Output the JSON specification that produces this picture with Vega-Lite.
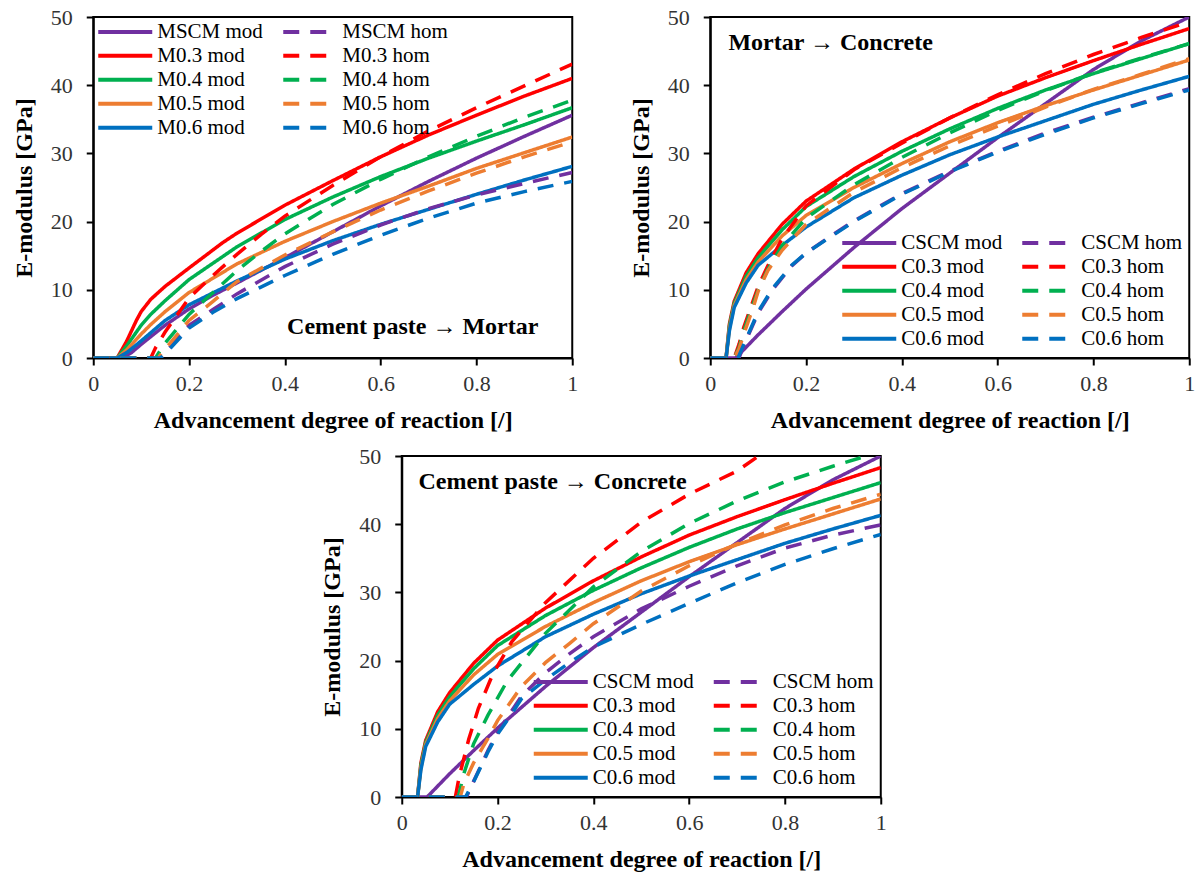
{
"$schema":"https://vega.github.io/schema/vega-lite/v6.json",
"background":"white",
"padding":{"left":11,"top":5,"right":0,"bottom":0},
"config":{
 "font":"Liberation Serif",
 "view":{"stroke":"black","strokeWidth":2},
 "axis":{"grid":false,"domainColor":"black","domainWidth":2,"tickColor":"black","tickWidth":2,"tickSize":7,"labelFont":"Liberation Serif","labelFontSize":22,"labelColor":"#333333","titleFont":"Liberation Serif","titleFontSize":24,"titleFontWeight":"bold","titleColor":"black","labelFlush":false},
 "axisX":{"labelPadding":8,"titlePadding":14},
 "axisY":{"labelPadding":14,"titlePadding":14},
 "legend":{"symbolType":"stroke","symbolSize":2916,"symbolStrokeWidth":4,"labelFont":"Liberation Serif","labelFontSize":21,"labelColor":"black","labelOffset":3,"rowPadding":0,"columnPadding":18,"padding":0,"labelLimit":300,"clipHeight":23.5}
},
"datasets":{
"mmod":[
{"s":"MSCM mod","x":0,"y":0},{"s":"MSCM mod","x":0.06,"y":0},{"s":"MSCM mod","x":0.08,"y":0.8},{"s":"MSCM mod","x":0.1,"y":2},{"s":"MSCM mod","x":0.15,"y":4.8},{"s":"MSCM mod","x":0.2,"y":7.2},{"s":"MSCM mod","x":0.25,"y":9.2},{"s":"MSCM mod","x":0.3,"y":11},{"s":"MSCM mod","x":0.4,"y":14.7},{"s":"MSCM mod","x":0.5,"y":18.5},{"s":"MSCM mod","x":0.6,"y":22.3},{"s":"MSCM mod","x":0.7,"y":25.9},{"s":"MSCM mod","x":0.8,"y":29.3},{"s":"MSCM mod","x":0.9,"y":32.5},{"s":"MSCM mod","x":1,"y":35.6},
{"s":"M0.3 mod","x":0,"y":0},{"s":"M0.3 mod","x":0.05,"y":0},{"s":"M0.3 mod","x":0.07,"y":2.5},{"s":"M0.3 mod","x":0.09,"y":5.5},{"s":"M0.3 mod","x":0.1,"y":6.8},{"s":"M0.3 mod","x":0.12,"y":8.6},{"s":"M0.3 mod","x":0.15,"y":10.5},{"s":"M0.3 mod","x":0.2,"y":13.2},{"s":"M0.3 mod","x":0.27,"y":16.9},{"s":"M0.3 mod","x":0.3,"y":18.3},{"s":"M0.3 mod","x":0.4,"y":22.4},{"s":"M0.3 mod","x":0.5,"y":26},{"s":"M0.3 mod","x":0.6,"y":29.5},{"s":"M0.3 mod","x":0.7,"y":32.7},{"s":"M0.3 mod","x":0.8,"y":35.6},{"s":"M0.3 mod","x":0.9,"y":38.4},{"s":"M0.3 mod","x":1,"y":41},
{"s":"M0.4 mod","x":0,"y":0},{"s":"M0.4 mod","x":0.05,"y":0},{"s":"M0.4 mod","x":0.07,"y":1.8},{"s":"M0.4 mod","x":0.1,"y":4.8},{"s":"M0.4 mod","x":0.12,"y":6.4},{"s":"M0.4 mod","x":0.15,"y":8.4},{"s":"M0.4 mod","x":0.2,"y":11.5},{"s":"M0.4 mod","x":0.3,"y":16.3},{"s":"M0.4 mod","x":0.4,"y":20.3},{"s":"M0.4 mod","x":0.5,"y":23.6},{"s":"M0.4 mod","x":0.6,"y":26.6},{"s":"M0.4 mod","x":0.7,"y":29.3},{"s":"M0.4 mod","x":0.8,"y":31.8},{"s":"M0.4 mod","x":0.9,"y":34.2},{"s":"M0.4 mod","x":1,"y":36.7},
{"s":"M0.5 mod","x":0,"y":0},{"s":"M0.5 mod","x":0.05,"y":0},{"s":"M0.5 mod","x":0.07,"y":1.2},{"s":"M0.5 mod","x":0.1,"y":3.5},{"s":"M0.5 mod","x":0.12,"y":4.9},{"s":"M0.5 mod","x":0.15,"y":6.8},{"s":"M0.5 mod","x":0.2,"y":9.6},{"s":"M0.5 mod","x":0.3,"y":13.8},{"s":"M0.5 mod","x":0.4,"y":17.1},{"s":"M0.5 mod","x":0.5,"y":20},{"s":"M0.5 mod","x":0.6,"y":22.7},{"s":"M0.5 mod","x":0.7,"y":25.2},{"s":"M0.5 mod","x":0.8,"y":27.8},{"s":"M0.5 mod","x":0.9,"y":30.1},{"s":"M0.5 mod","x":1,"y":32.4},
{"s":"M0.6 mod","x":0,"y":0},{"s":"M0.6 mod","x":0.05,"y":0},{"s":"M0.6 mod","x":0.07,"y":0.8},{"s":"M0.6 mod","x":0.1,"y":2.5},{"s":"M0.6 mod","x":0.12,"y":3.7},{"s":"M0.6 mod","x":0.15,"y":5.5},{"s":"M0.6 mod","x":0.2,"y":7.8},{"s":"M0.6 mod","x":0.3,"y":11.3},{"s":"M0.6 mod","x":0.4,"y":14.5},{"s":"M0.6 mod","x":0.5,"y":17.2},{"s":"M0.6 mod","x":0.6,"y":19.6},{"s":"M0.6 mod","x":0.7,"y":21.8},{"s":"M0.6 mod","x":0.8,"y":24},{"s":"M0.6 mod","x":0.9,"y":26.1},{"s":"M0.6 mod","x":1,"y":28.1}
],
"mhom":[
{"s":"MSCM hom","x":0,"y":0},{"s":"MSCM hom","x":0.14,"y":0},{"s":"MSCM hom","x":0.16,"y":1.6},{"s":"MSCM hom","x":0.2,"y":4.8},{"s":"MSCM hom","x":0.25,"y":7.1},{"s":"MSCM hom","x":0.3,"y":9.4},{"s":"MSCM hom","x":0.4,"y":13.4},{"s":"MSCM hom","x":0.5,"y":16.7},{"s":"MSCM hom","x":0.6,"y":19.5},{"s":"MSCM hom","x":0.7,"y":21.9},{"s":"MSCM hom","x":0.8,"y":23.9},{"s":"MSCM hom","x":0.9,"y":25.6},{"s":"MSCM hom","x":1,"y":27.2},
{"s":"M0.3 hom","x":0,"y":0},{"s":"M0.3 hom","x":0.12,"y":0},{"s":"M0.3 hom","x":0.13,"y":1.5},{"s":"M0.3 hom","x":0.15,"y":3.8},{"s":"M0.3 hom","x":0.2,"y":8.8},{"s":"M0.3 hom","x":0.25,"y":12.1},{"s":"M0.3 hom","x":0.3,"y":15.2},{"s":"M0.3 hom","x":0.35,"y":18.1},{"s":"M0.3 hom","x":0.4,"y":20.8},{"s":"M0.3 hom","x":0.5,"y":25.3},{"s":"M0.3 hom","x":0.6,"y":29.5},{"s":"M0.3 hom","x":0.7,"y":33.3},{"s":"M0.3 hom","x":0.8,"y":36.7},{"s":"M0.3 hom","x":0.9,"y":39.9},{"s":"M0.3 hom","x":1,"y":43.1},
{"s":"M0.4 hom","x":0,"y":0},{"s":"M0.4 hom","x":0.13,"y":0},{"s":"M0.4 hom","x":0.15,"y":2.2},{"s":"M0.4 hom","x":0.2,"y":6.4},{"s":"M0.4 hom","x":0.25,"y":9.6},{"s":"M0.4 hom","x":0.3,"y":12.8},{"s":"M0.4 hom","x":0.35,"y":15.6},{"s":"M0.4 hom","x":0.4,"y":18.2},{"s":"M0.4 hom","x":0.5,"y":22.5},{"s":"M0.4 hom","x":0.6,"y":26.2},{"s":"M0.4 hom","x":0.7,"y":29.5},{"s":"M0.4 hom","x":0.8,"y":32.5},{"s":"M0.4 hom","x":0.9,"y":35.3},{"s":"M0.4 hom","x":1,"y":37.8},
{"s":"M0.5 hom","x":0,"y":0},{"s":"M0.5 hom","x":0.135,"y":0},{"s":"M0.5 hom","x":0.15,"y":1.3},{"s":"M0.5 hom","x":0.2,"y":5.5},{"s":"M0.5 hom","x":0.25,"y":8.3},{"s":"M0.5 hom","x":0.3,"y":11.2},{"s":"M0.5 hom","x":0.4,"y":15.1},{"s":"M0.5 hom","x":0.5,"y":18.5},{"s":"M0.5 hom","x":0.6,"y":21.7},{"s":"M0.5 hom","x":0.7,"y":24.5},{"s":"M0.5 hom","x":0.8,"y":27.1},{"s":"M0.5 hom","x":0.9,"y":29.5},{"s":"M0.5 hom","x":1,"y":31.7},
{"s":"M0.6 hom","x":0,"y":0},{"s":"M0.6 hom","x":0.14,"y":0},{"s":"M0.6 hom","x":0.15,"y":0.6},{"s":"M0.6 hom","x":0.2,"y":4.4},{"s":"M0.6 hom","x":0.25,"y":6.7},{"s":"M0.6 hom","x":0.3,"y":8.7},{"s":"M0.6 hom","x":0.35,"y":10.4},{"s":"M0.6 hom","x":0.4,"y":12.1},{"s":"M0.6 hom","x":0.5,"y":15.2},{"s":"M0.6 hom","x":0.6,"y":18},{"s":"M0.6 hom","x":0.7,"y":20.5},{"s":"M0.6 hom","x":0.8,"y":22.7},{"s":"M0.6 hom","x":0.9,"y":24.4},{"s":"M0.6 hom","x":1,"y":25.9}
],
"cmod":[
{"s":"CSCM mod","x":0,"y":0},{"s":"CSCM mod","x":0.053,"y":0},{"s":"CSCM mod","x":0.1,"y":3.4},{"s":"CSCM mod","x":0.15,"y":6.8},{"s":"CSCM mod","x":0.2,"y":10.1},{"s":"CSCM mod","x":0.3,"y":16.2},{"s":"CSCM mod","x":0.4,"y":21.9},{"s":"CSCM mod","x":0.5,"y":27.1},{"s":"CSCM mod","x":0.6,"y":32.3},{"s":"CSCM mod","x":0.7,"y":37.3},{"s":"CSCM mod","x":0.8,"y":42.3},{"s":"CSCM mod","x":0.9,"y":46.5},{"s":"CSCM mod","x":1,"y":50},
{"s":"C0.3 mod","x":0,"y":0},{"s":"C0.3 mod","x":0.033,"y":0},{"s":"C0.3 mod","x":0.04,"y":5},{"s":"C0.3 mod","x":0.05,"y":8.3},{"s":"C0.3 mod","x":0.075,"y":12.5},{"s":"C0.3 mod","x":0.1,"y":15.3},{"s":"C0.3 mod","x":0.15,"y":19.6},{"s":"C0.3 mod","x":0.2,"y":23},{"s":"C0.3 mod","x":0.3,"y":27.7},{"s":"C0.3 mod","x":0.4,"y":31.7},{"s":"C0.3 mod","x":0.5,"y":35.2},{"s":"C0.3 mod","x":0.6,"y":38.4},{"s":"C0.3 mod","x":0.7,"y":41.1},{"s":"C0.3 mod","x":0.8,"y":43.6},{"s":"C0.3 mod","x":0.9,"y":46},{"s":"C0.3 mod","x":1,"y":48.3},
{"s":"C0.4 mod","x":0,"y":0},{"s":"C0.4 mod","x":0.033,"y":0},{"s":"C0.4 mod","x":0.04,"y":4.7},{"s":"C0.4 mod","x":0.05,"y":8},{"s":"C0.4 mod","x":0.075,"y":12},{"s":"C0.4 mod","x":0.1,"y":14.7},{"s":"C0.4 mod","x":0.15,"y":18.8},{"s":"C0.4 mod","x":0.2,"y":22.2},{"s":"C0.4 mod","x":0.3,"y":26.6},{"s":"C0.4 mod","x":0.4,"y":30.3},{"s":"C0.4 mod","x":0.5,"y":33.6},{"s":"C0.4 mod","x":0.6,"y":36.6},{"s":"C0.4 mod","x":0.7,"y":39.3},{"s":"C0.4 mod","x":0.8,"y":41.7},{"s":"C0.4 mod","x":0.9,"y":43.9},{"s":"C0.4 mod","x":1,"y":46.1},
{"s":"C0.5 mod","x":0,"y":0},{"s":"C0.5 mod","x":0.033,"y":0},{"s":"C0.5 mod","x":0.04,"y":4.3},{"s":"C0.5 mod","x":0.05,"y":7.7},{"s":"C0.5 mod","x":0.075,"y":11.5},{"s":"C0.5 mod","x":0.1,"y":14.1},{"s":"C0.5 mod","x":0.15,"y":17.9},{"s":"C0.5 mod","x":0.2,"y":20.9},{"s":"C0.5 mod","x":0.3,"y":25},{"s":"C0.5 mod","x":0.4,"y":28.5},{"s":"C0.5 mod","x":0.5,"y":31.7},{"s":"C0.5 mod","x":0.6,"y":34.5},{"s":"C0.5 mod","x":0.7,"y":37},{"s":"C0.5 mod","x":0.8,"y":39.3},{"s":"C0.5 mod","x":0.9,"y":41.5},{"s":"C0.5 mod","x":1,"y":43.7},
{"s":"C0.6 mod","x":0,"y":0},{"s":"C0.6 mod","x":0.033,"y":0},{"s":"C0.6 mod","x":0.04,"y":4},{"s":"C0.6 mod","x":0.05,"y":7.4},{"s":"C0.6 mod","x":0.075,"y":11},{"s":"C0.6 mod","x":0.1,"y":13.6},{"s":"C0.6 mod","x":0.15,"y":16.5},{"s":"C0.6 mod","x":0.2,"y":19.2},{"s":"C0.6 mod","x":0.3,"y":23.5},{"s":"C0.6 mod","x":0.4,"y":26.8},{"s":"C0.6 mod","x":0.5,"y":29.8},{"s":"C0.6 mod","x":0.6,"y":32.4},{"s":"C0.6 mod","x":0.7,"y":34.8},{"s":"C0.6 mod","x":0.8,"y":37.2},{"s":"C0.6 mod","x":0.9,"y":39.3},{"s":"C0.6 mod","x":1,"y":41.3}
],
"chom1":[
{"s":"CSCM hom","x":0,"y":0},{"s":"CSCM hom","x":0.06,"y":0},{"s":"CSCM hom","x":0.07,"y":1.8},{"s":"CSCM hom","x":0.1,"y":6.6},{"s":"CSCM hom","x":0.13,"y":10},{"s":"CSCM hom","x":0.17,"y":13.5},{"s":"CSCM hom","x":0.2,"y":15.4},{"s":"CSCM hom","x":0.25,"y":17.8},{"s":"CSCM hom","x":0.3,"y":20.1},{"s":"CSCM hom","x":0.4,"y":24.1},{"s":"CSCM hom","x":0.5,"y":27.4},{"s":"CSCM hom","x":0.6,"y":30.3},{"s":"CSCM hom","x":0.7,"y":33},{"s":"CSCM hom","x":0.8,"y":35.3},{"s":"CSCM hom","x":0.9,"y":37.4},{"s":"CSCM hom","x":1,"y":39.5},
{"s":"C0.3 hom","x":0,"y":0},{"s":"C0.3 hom","x":0.05,"y":0},{"s":"C0.3 hom","x":0.06,"y":2},{"s":"C0.3 hom","x":0.07,"y":4.5},{"s":"C0.3 hom","x":0.09,"y":8.5},{"s":"C0.3 hom","x":0.1,"y":10.5},{"s":"C0.3 hom","x":0.12,"y":13.5},{"s":"C0.3 hom","x":0.15,"y":17.5},{"s":"C0.3 hom","x":0.2,"y":22.3},{"s":"C0.3 hom","x":0.3,"y":27.6},{"s":"C0.3 hom","x":0.4,"y":31.5},{"s":"C0.3 hom","x":0.5,"y":35.2},{"s":"C0.3 hom","x":0.6,"y":38.6},{"s":"C0.3 hom","x":0.7,"y":41.7},{"s":"C0.3 hom","x":0.8,"y":44.5},{"s":"C0.3 hom","x":0.9,"y":47},{"s":"C0.3 hom","x":1,"y":49.3},
{"s":"C0.4 hom","x":0,"y":0},{"s":"C0.4 hom","x":0.05,"y":0},{"s":"C0.4 hom","x":0.06,"y":1.5},{"s":"C0.4 hom","x":0.07,"y":4},{"s":"C0.4 hom","x":0.09,"y":8},{"s":"C0.4 hom","x":0.1,"y":10},{"s":"C0.4 hom","x":0.12,"y":13},{"s":"C0.4 hom","x":0.15,"y":16.5},{"s":"C0.4 hom","x":0.2,"y":20.5},{"s":"C0.4 hom","x":0.3,"y":25.4},{"s":"C0.4 hom","x":0.4,"y":29.4},{"s":"C0.4 hom","x":0.5,"y":33},{"s":"C0.4 hom","x":0.6,"y":36.3},{"s":"C0.4 hom","x":0.7,"y":39.2},{"s":"C0.4 hom","x":0.8,"y":41.8},{"s":"C0.4 hom","x":0.9,"y":44},{"s":"C0.4 hom","x":1,"y":46.1},
{"s":"C0.5 hom","x":0,"y":0},{"s":"C0.5 hom","x":0.05,"y":0},{"s":"C0.5 hom","x":0.06,"y":1.3},{"s":"C0.5 hom","x":0.07,"y":3.5},{"s":"C0.5 hom","x":0.09,"y":7.5},{"s":"C0.5 hom","x":0.1,"y":9.8},{"s":"C0.5 hom","x":0.12,"y":12.8},{"s":"C0.5 hom","x":0.15,"y":15.8},{"s":"C0.5 hom","x":0.2,"y":19.6},{"s":"C0.5 hom","x":0.3,"y":24.3},{"s":"C0.5 hom","x":0.4,"y":27.9},{"s":"C0.5 hom","x":0.5,"y":31.1},{"s":"C0.5 hom","x":0.6,"y":34},{"s":"C0.5 hom","x":0.7,"y":36.8},{"s":"C0.5 hom","x":0.8,"y":39.4},{"s":"C0.5 hom","x":0.9,"y":41.6},{"s":"C0.5 hom","x":1,"y":43.9},
{"s":"C0.6 hom","x":0,"y":0},{"s":"C0.6 hom","x":0.058,"y":0},{"s":"C0.6 hom","x":0.07,"y":2},{"s":"C0.6 hom","x":0.1,"y":6.8},{"s":"C0.6 hom","x":0.13,"y":10.2},{"s":"C0.6 hom","x":0.17,"y":13.6},{"s":"C0.6 hom","x":0.2,"y":15.4},{"s":"C0.6 hom","x":0.25,"y":17.7},{"s":"C0.6 hom","x":0.3,"y":20},{"s":"C0.6 hom","x":0.4,"y":24},{"s":"C0.6 hom","x":0.5,"y":27.3},{"s":"C0.6 hom","x":0.6,"y":30.2},{"s":"C0.6 hom","x":0.7,"y":32.8},{"s":"C0.6 hom","x":0.8,"y":35.2},{"s":"C0.6 hom","x":0.9,"y":37.3},{"s":"C0.6 hom","x":1,"y":39.3}
],
"chom2":[
{"s":"CSCM hom","x":0,"y":0},{"s":"CSCM hom","x":0.135,"y":0},{"s":"CSCM hom","x":0.15,"y":2.3},{"s":"CSCM hom","x":0.18,"y":6.8},{"s":"CSCM hom","x":0.2,"y":9.5},{"s":"CSCM hom","x":0.25,"y":14.8},{"s":"CSCM hom","x":0.3,"y":18.2},{"s":"CSCM hom","x":0.35,"y":21},{"s":"CSCM hom","x":0.4,"y":23.5},{"s":"CSCM hom","x":0.5,"y":27.6},{"s":"CSCM hom","x":0.6,"y":30.9},{"s":"CSCM hom","x":0.7,"y":33.9},{"s":"CSCM hom","x":0.8,"y":36.5},{"s":"CSCM hom","x":0.9,"y":38.4},{"s":"CSCM hom","x":1,"y":39.9},
{"s":"C0.3 hom","x":0,"y":0},{"s":"C0.3 hom","x":0.112,"y":0},{"s":"C0.3 hom","x":0.12,"y":3},{"s":"C0.3 hom","x":0.14,"y":8.5},{"s":"C0.3 hom","x":0.16,"y":13},{"s":"C0.3 hom","x":0.19,"y":18},{"s":"C0.3 hom","x":0.23,"y":22.8},{"s":"C0.3 hom","x":0.3,"y":28.5},{"s":"C0.3 hom","x":0.4,"y":35},{"s":"C0.3 hom","x":0.5,"y":40.3},{"s":"C0.3 hom","x":0.6,"y":44.4},{"s":"C0.3 hom","x":0.7,"y":47.8},{"s":"C0.3 hom","x":0.745,"y":50},
{"s":"C0.4 hom","x":0,"y":0},{"s":"C0.4 hom","x":0.118,"y":0},{"s":"C0.4 hom","x":0.13,"y":3.5},{"s":"C0.4 hom","x":0.15,"y":7.8},{"s":"C0.4 hom","x":0.18,"y":12},{"s":"C0.4 hom","x":0.22,"y":17},{"s":"C0.4 hom","x":0.26,"y":20.5},{"s":"C0.4 hom","x":0.3,"y":24},{"s":"C0.4 hom","x":0.4,"y":30.8},{"s":"C0.4 hom","x":0.5,"y":36},{"s":"C0.4 hom","x":0.6,"y":40.1},{"s":"C0.4 hom","x":0.7,"y":43.4},{"s":"C0.4 hom","x":0.8,"y":46.2},{"s":"C0.4 hom","x":0.9,"y":48.5},{"s":"C0.4 hom","x":0.97,"y":50},
{"s":"C0.5 hom","x":0,"y":0},{"s":"C0.5 hom","x":0.122,"y":0},{"s":"C0.5 hom","x":0.13,"y":2},{"s":"C0.5 hom","x":0.15,"y":5},{"s":"C0.5 hom","x":0.18,"y":8.6},{"s":"C0.5 hom","x":0.2,"y":11.2},{"s":"C0.5 hom","x":0.25,"y":16.2},{"s":"C0.5 hom","x":0.3,"y":19.7},{"s":"C0.5 hom","x":0.35,"y":22.5},{"s":"C0.5 hom","x":0.4,"y":25.4},{"s":"C0.5 hom","x":0.5,"y":30.2},{"s":"C0.5 hom","x":0.6,"y":33.9},{"s":"C0.5 hom","x":0.7,"y":37.1},{"s":"C0.5 hom","x":0.8,"y":39.9},{"s":"C0.5 hom","x":0.9,"y":42.3},{"s":"C0.5 hom","x":1,"y":44.4},
{"s":"C0.6 hom","x":0,"y":0},{"s":"C0.6 hom","x":0.133,"y":0},{"s":"C0.6 hom","x":0.15,"y":2.2},{"s":"C0.6 hom","x":0.18,"y":6.6},{"s":"C0.6 hom","x":0.2,"y":9.2},{"s":"C0.6 hom","x":0.22,"y":11.2},{"s":"C0.6 hom","x":0.25,"y":14.4},{"s":"C0.6 hom","x":0.3,"y":17.2},{"s":"C0.6 hom","x":0.35,"y":19.7},{"s":"C0.6 hom","x":0.4,"y":22},{"s":"C0.6 hom","x":0.5,"y":25.3},{"s":"C0.6 hom","x":0.6,"y":28.4},{"s":"C0.6 hom","x":0.7,"y":31.4},{"s":"C0.6 hom","x":0.8,"y":34.1},{"s":"C0.6 hom","x":0.9,"y":36.4},{"s":"C0.6 hom","x":1,"y":38.5}
]
},
"vconcat":[
 {"hconcat":[
  {"width":479,"height":341,
   "layer":[
    {"encoding":{
      "x":{"field":"x","type":"quantitative","scale":{"domain":[0,1],"nice":false},"axis":{"values":[0,0.2,0.4,0.6,0.8,1],"format":"~g","title":"Advancement degree of reaction [/]"}},
      "y":{"field":"y","type":"quantitative","scale":{"domain":[0,50],"nice":false},"axis":{"values":[0,10,20,30,40,50],"title":"E-modulus [GPa]"}},
      "color":{"field":"s","type":"nominal","scale":{"domain":["MSCM mod","MSCM hom","M0.3 mod","M0.3 hom","M0.4 mod","M0.4 hom","M0.5 mod","M0.5 hom","M0.6 mod","M0.6 hom"],"range":["#7030A0","#7030A0","#FF0000","#FF0000","#00B050","#00B050","#ED7D31","#ED7D31","#0070C0","#0070C0"]},"legend":{"title":null,"orient":"top-left","direction":"horizontal","columns":2,"offset":3,"labelFont":"Liberation Serif","clipHeight":23.5,"rowPadding":0}},
      "strokeDash":{"field":"s","type":"nominal","scale":{"domain":["MSCM mod","MSCM hom","M0.3 mod","M0.3 hom","M0.4 mod","M0.4 hom","M0.5 mod","M0.5 hom","M0.6 mod","M0.6 hom"],"range":[[1,0],[16,11],[1,0],[16,11],[1,0],[16,11],[1,0],[16,11],[1,0],[16,11]]},"legend":{"title":null,"orient":"top-left","direction":"horizontal","columns":2,"offset":3,"labelFont":"Liberation Serif","clipHeight":23.5,"rowPadding":0}}
     },
     "layer":[
      {"data":{"name":"mmod"},"mark":{"type":"line","strokeWidth":3.5,"clip":true}},
      {"data":{"name":"mhom"},"mark":{"type":"line","strokeWidth":3.5,"clip":true}}
     ]},
    {"data":{"values":[{"t":"Cement paste → Mortar"}]},
     "mark":{"type":"text","font":"Liberation Serif","fontSize":24,"fontWeight":"bold","color":"black","align":"center","baseline":"middle"},
     "encoding":{"x":{"datum":0.667,"type":"quantitative","title":"Advancement degree of reaction [/]"},"y":{"datum":4.5,"type":"quantitative","title":"E-modulus [GPa]"},"text":{"field":"t"}}}
   ]},
  {"width":479,"height":341,
   "layer":[
    {"encoding":{
      "x":{"field":"x","type":"quantitative","scale":{"domain":[0,1],"nice":false},"axis":{"values":[0,0.2,0.4,0.6,0.8,1],"format":"~g","title":"Advancement degree of reaction [/]"}},
      "y":{"field":"y","type":"quantitative","scale":{"domain":[0,50],"nice":false},"axis":{"values":[0,10,20,30,40,50],"title":"E-modulus [GPa]"}},
      "color":{"field":"s","type":"nominal","scale":{"domain":["CSCM mod","CSCM hom","C0.3 mod","C0.3 hom","C0.4 mod","C0.4 hom","C0.5 mod","C0.5 hom","C0.6 mod","C0.6 hom"],"range":["#7030A0","#7030A0","#FF0000","#FF0000","#00B050","#00B050","#ED7D31","#ED7D31","#0070C0","#0070C0"]},"legend":{"title":null,"orient":"bottom-right","direction":"horizontal","columns":2,"offset":7,"labelFont":"Liberation Serif","clipHeight":23.5,"rowPadding":0}},
      "strokeDash":{"field":"s","type":"nominal","scale":{"domain":["CSCM mod","CSCM hom","C0.3 mod","C0.3 hom","C0.4 mod","C0.4 hom","C0.5 mod","C0.5 hom","C0.6 mod","C0.6 hom"],"range":[[1,0],[16,11],[1,0],[16,11],[1,0],[16,11],[1,0],[16,11],[1,0],[16,11]]},"legend":{"title":null,"orient":"bottom-right","direction":"horizontal","columns":2,"offset":7,"labelFont":"Liberation Serif","clipHeight":23.5,"rowPadding":0}}
     },
     "layer":[
      {"data":{"name":"cmod"},"mark":{"type":"line","strokeWidth":3.5,"clip":true}},
      {"data":{"name":"chom1"},"mark":{"type":"line","strokeWidth":3.5,"clip":true}}
     ]},
    {"data":{"values":[{"t":"Mortar → Concrete"}]},
     "mark":{"type":"text","font":"Liberation Serif","fontSize":24,"fontWeight":"bold","color":"black","align":"left","baseline":"middle"},
     "encoding":{"x":{"datum":0.038,"type":"quantitative","title":"Advancement degree of reaction [/]"},"y":{"datum":46.2,"type":"quantitative","title":"E-modulus [GPa]"},"text":{"field":"t"}}}
   ]}
 ],
 "spacing":49,
 "resolve":{"scale":{"color":"independent","strokeDash":"independent"},"legend":{"color":"independent","strokeDash":"independent"}}
 },
 {"width":479,"height":341,
   "layer":[
    {"encoding":{
      "x":{"field":"x","type":"quantitative","scale":{"domain":[0,1],"nice":false},"axis":{"values":[0,0.2,0.4,0.6,0.8,1],"format":"~g","title":"Advancement degree of reaction [/]"}},
      "y":{"field":"y","type":"quantitative","scale":{"domain":[0,50],"nice":false},"axis":{"values":[0,10,20,30,40,50],"title":"E-modulus [GPa]"}},
      "color":{"field":"s","type":"nominal","scale":{"domain":["CSCM mod","CSCM hom","C0.3 mod","C0.3 hom","C0.4 mod","C0.4 hom","C0.5 mod","C0.5 hom","C0.6 mod","C0.6 hom"],"range":["#7030A0","#7030A0","#FF0000","#FF0000","#00B050","#00B050","#ED7D31","#ED7D31","#0070C0","#0070C0"]},"legend":{"title":null,"orient":"bottom-right","direction":"horizontal","columns":2,"offset":7,"labelFont":"Liberation Serif","clipHeight":23.5,"rowPadding":0}},
      "strokeDash":{"field":"s","type":"nominal","scale":{"domain":["CSCM mod","CSCM hom","C0.3 mod","C0.3 hom","C0.4 mod","C0.4 hom","C0.5 mod","C0.5 hom","C0.6 mod","C0.6 hom"],"range":[[1,0],[16,11],[1,0],[16,11],[1,0],[16,11],[1,0],[16,11],[1,0],[16,11]]},"legend":{"title":null,"orient":"bottom-right","direction":"horizontal","columns":2,"offset":7,"labelFont":"Liberation Serif","clipHeight":23.5,"rowPadding":0}}
     },
     "layer":[
      {"data":{"name":"cmod"},"mark":{"type":"line","strokeWidth":3.5,"clip":true}},
      {"data":{"name":"chom2"},"mark":{"type":"line","strokeWidth":3.5,"clip":true}}
     ]},
    {"data":{"values":[{"t":"Cement paste → Concrete"}]},
     "mark":{"type":"text","font":"Liberation Serif","fontSize":24,"fontWeight":"bold","color":"black","align":"left","baseline":"middle"},
     "encoding":{"x":{"datum":0.035,"type":"quantitative","title":"Advancement degree of reaction [/]"},"y":{"datum":46.2,"type":"quantitative","title":"E-modulus [GPa]"},"text":{"field":"t"}}}
   ]}
],
"spacing":11,
"center":true,
"resolve":{"scale":{"color":"independent","strokeDash":"independent"},"legend":{"color":"independent","strokeDash":"independent"}}
}
